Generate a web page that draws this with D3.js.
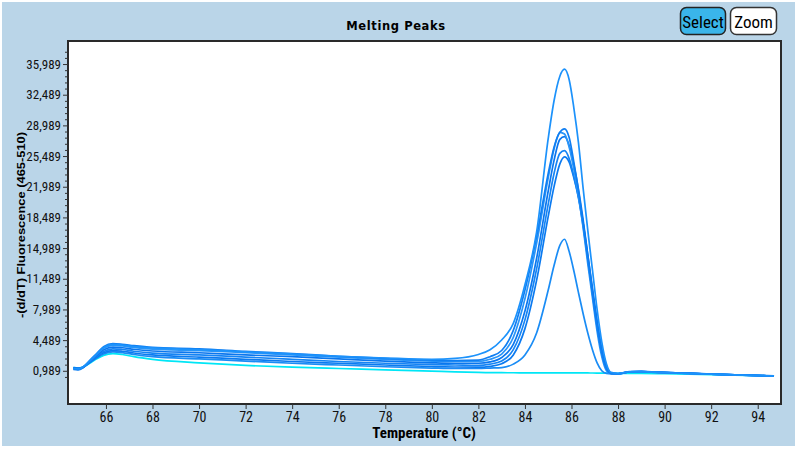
<!DOCTYPE html>
<html><head><meta charset="utf-8">
<script src="https://cdn.jsdelivr.net/npm/d3@7"></script>
<style>html,body{margin:0;padding:0;background:#fff;overflow:hidden}</style>
</head><body>
<svg id="c" width="796" height="449"></svg>
<script>
// ---- data ----
const temps = [64.6, 64.8, 65.0, 65.3, 65.6, 65.9, 66.3, 66.7, 67.2, 68, 70, 72, 74, 76, 78, 80, 81, 82, 82.5, 83, 83.5, 84, 84.5, 85, 85.25, 85.5, 85.7, 85.9, 86.1, 86.3, 86.5, 86.7, 86.9, 87.1, 87.3, 87.5, 87.7, 88, 88.5, 89, 90, 91, 92, 93, 94, 94.7];
const seriesA = [1250,1200,1400,2120,2900,3650,4000,3920,3750,3600,3400,3150,2900,2650,2450,2300,2400, 2850,3400,4500,6400,10800,16800,27500,31800,34600,35400,34200,31000,27000,21800,17000,12500,8000,4300,1800,800,700, 880,900,780,700,600,520,450,400];
const seriesB = [1150,1100,1300,2150,2950,3750,4100,4020,3850,3650,3500,3200,2950,2650,2400,2200,2150, 2200,2600,3300,5600,10200,16300,23500,26500,28200,28600,27600,24800,21500,17800,13800,9800,6000,3000,1200,700,650, 900,920,800,720,620,540,460,410];
const seriesC = [1200,1150,1350,2100,2850,3550,3900,3820,3650,3450,3300,3050,2800,2550,2300,2100,2050, 2050,2300,2900,4800,9200,15500,23000,26300,28200,28000,26500,24000,21000,17300,13200,9300,5500,2600,1000,650,650, 860,880,770,690,600,510,440,390];
const seriesD = [1250,1200,1350,2050,2750,3400,3700,3620,3450,3250,3050,2800,2600,2350,2100,1900,1850, 1850,2000,2500,4000,7800,13800,21500,25000,27400,27700,26700,24500,21700,18200,14200,10200,6400,3200,1300,700,650, 870,900,790,710,610,530,450,400];
const seriesE = [1300,1250,1400,2000,2650,3200,3500,3420,3220,3000,2800,2550,2300,2050,1850,1700,1650, 1600,1750,2100,3400,6800,12600,20000,23500,25800,26100,25200,23200,20700,17500,13700,9900,6200,3100,1300,700,650, 850,880,770,690,600,520,440,390];
const seriesF = [1350,1300,1400,1950,2550,3050,3300,3220,3020,2800,2550,2300,2050,1850,1650,1480,1420, 1400,1500,1800,2800,5800,11300,18600,22000,24600,25400,24800,23000,20800,17800,14200,10400,6700,3500,1400,700,650, 880,910,790,710,610,530,450,400];
const seriesG = [1300,1250,1350,1900,2450,2900,3150,3070,2850,2600,2350,2100,1850,1650,1450,1300,1250, 1250,1300,1350,1750,2800,5300,10200,13000,15300,16000,14600,12400,9900,7500,5300,3400,1900,1000,700,650,650, 860,890,780,700,600,520,440,390];
const seriesH = [1350,1300,1400,1850,2350,2750,2950,2850,2600,2300,1900,1600,1400,1250,1100,950,870, 800,780,770,765,760,760,760,758,755,752,750,748,745,742,740,735,730,725,720,715,700, 690,680,650,600,550,500,440,400];
const yTicks = [989, 4489, 7989, 11489, 14989, 18489, 21989, 25489, 28989, 32489, 35989];
const yTickLabels = ["0,989", "4,489", "7,989", "11,489", "14,989", "18,489", "21,989", "25,489", "28,989", "32,489", "35,989"];
const xTicks = [66, 68, 70, 72, 74, 76, 78, 80, 82, 84, 86, 88, 90, 92, 94];
const xTickLabels = ["66", "68", "70", "72", "74", "76", "78", "80", "82", "84", "86", "88", "90", "92", "94"];

// ---- styles ----
const seriesList = [seriesH, seriesG, seriesF, seriesE, seriesD, seriesC, seriesB, seriesA];
const colors = ["#00e6f6", "#1a8cf5", "#0b7af0", "#1584f4", "#0a76ee", "#2a95f8", "#0f7ef2", "#1c92fb"];
const narrow = "'Liberation Sans Narrow','Arial Narrow','Roboto Condensed',sans-serif";

const svg = d3.select("#c");
const L = 68, R = 781, T = 41, B = 404;

svg.append("rect").attr("x", 2).attr("y", 2).attr("width", 793).attr("height", 444).attr("fill", "#bad5e8");
svg.append("rect").attr("x", L).attr("y", T).attr("width", R - L).attr("height", B - T).attr("fill", "#fff");

const x = d3.scaleLinear().domain([64.37, 95.0]).range([L, R]);
const y = d3.scaleLinear().domain([-2800, 38617]).range([B, T]);

svg.append("clipPath").attr("id", "clip").append("rect")
  .attr("x", L + 1).attr("y", T + 1).attr("width", R - L - 2).attr("height", B - T - 2);

const line = d3.line().x((d, i) => x(temps[i])).y(d => y(d)).curve(d3.curveMonotoneX);
const g = svg.append("g").attr("clip-path", "url(#clip)");
seriesList.forEach((s, k) => {
  g.append("path").attr("d", line(s)).attr("fill", "none")
    .attr("stroke", colors[k]).attr("stroke-width", 1.7).attr("stroke-linejoin", "round");
});

svg.append("rect").attr("x", L).attr("y", T).attr("width", R - L).attr("height", B - T)
  .attr("fill", "none").attr("stroke", "#2a2a2a").attr("stroke-width", 2);

const minor = [];
for (let v = yTicks[0] - 700; v <= 38000; v += 700) if (!yTicks.includes(Math.round(v))) minor.push(v);
const yMinor = svg.append("g").attr("transform", `translate(${L},0)`)
  .call(d3.axisLeft(y).tickValues(minor).tickSize(3).tickFormat(""));
yMinor.select(".domain").remove();
yMinor.selectAll("line").attr("stroke", "#333");
const yAx = svg.append("g").attr("transform", `translate(${L},0)`)
  .call(d3.axisLeft(y).tickValues(yTicks).tickSize(5).tickPadding(2)
    .tickFormat((d, i) => yTickLabels[i]));
yAx.select(".domain").remove();
yAx.selectAll("line").attr("stroke", "#333");
yAx.selectAll("text").attr("font-family", narrow).attr("font-size", 13).attr("fill", "#111");

const xAx = svg.append("g").attr("transform", `translate(0,${B})`)
  .call(d3.axisBottom(x).tickValues(xTicks).tickSize(5).tickPadding(3)
    .tickFormat((d, i) => xTickLabels[i]));
xAx.select(".domain").remove();
xAx.selectAll("line").attr("stroke", "#333");
xAx.selectAll("text").attr("font-family", narrow).attr("font-size", 14).attr("fill", "#111");

svg.append("text").attr("x", 396).attr("y", 30).attr("text-anchor", "middle")
  .attr("font-family", "'DejaVu Sans',Verdana,sans-serif").attr("font-weight", "bold")
  .attr("font-size", 11.5).attr("letter-spacing", 0.6).attr("fill", "#000").text("Melting Peaks");

svg.append("text").attr("transform", "translate(25,225) rotate(-90)").attr("text-anchor", "middle")
  .attr("font-family", "'Liberation Sans',Arial,sans-serif").attr("font-weight", "bold")
  .attr("font-size", 11.5).attr("fill", "#000").attr("textLength", 186).attr("lengthAdjust", "spacingAndGlyphs")
  .text("-(d/dT) Fluorescence (465-510)");
svg.append("text").attr("x", 424).attr("y", 438).attr("text-anchor", "middle")
  .attr("font-family", narrow).attr("font-weight", "bold")
  .attr("font-size", 15).attr("fill", "#000").text("Temperature (°C)");

svg.append("rect").attr("x", 680.5).attr("y", 7.5).attr("width", 45).attr("height", 27).attr("rx", 6)
  .attr("fill", "#3ab5ea").attr("stroke", "#222").attr("stroke-width", 1.5);
svg.append("text").attr("x", 703).attr("y", 28).attr("text-anchor", "middle")
  .attr("font-family", narrow).attr("font-size", 17).attr("fill", "#000").text("Select");
svg.append("rect").attr("x", 730.5).attr("y", 7.5).attr("width", 46).attr("height", 27).attr("rx", 6)
  .attr("fill", "#fff").attr("stroke", "#333").attr("stroke-width", 1.5);
svg.append("text").attr("x", 753.5).attr("y", 28).attr("text-anchor", "middle")
  .attr("font-family", narrow).attr("font-size", 17).attr("fill", "#000").text("Zoom");
</script>
</body></html>
